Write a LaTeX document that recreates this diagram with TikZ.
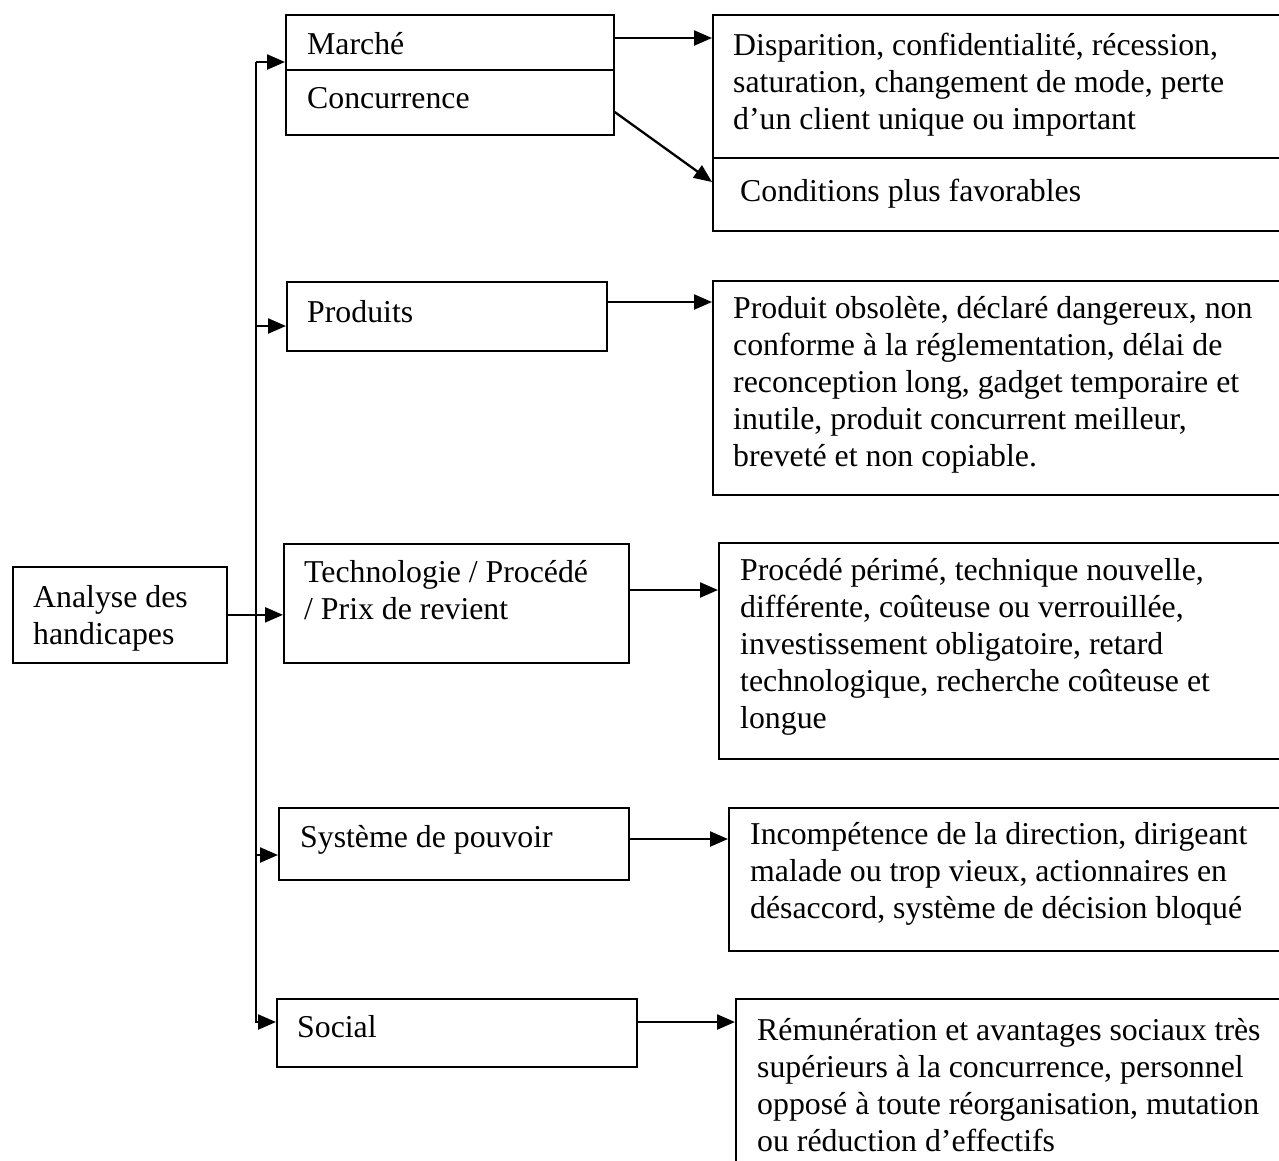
\documentclass[tikz,border=0pt]{standalone}
\usepackage{fontspec}
\setmainfont{Liberation Serif}
\usetikzlibrary{arrows.meta}
\tikzset{
  box/.style={draw, line width=1.7pt, rectangle, inner sep=0pt, anchor=north west},
  txt/.style={anchor=north west, inner sep=0pt, align=left, font=\fontsize{31.8}{37}\selectfont},
  conn/.style={line width=2.3pt},
  arr/.style={line width=2.3pt, -{Triangle[length=18pt,width=15pt]}}
}
\begin{document}
\begin{tikzpicture}[x=1pt,y=-1pt]
\clip (0,0) rectangle (1279,1160);
\fill[white] (0,0) rectangle (1279,1160);
% left column boxes
\node[box, minimum width=214pt, minimum height=96pt] (analyse) at (12,566) {};
\node[box, minimum width=328pt, minimum height=120pt] (marche) at (285,14) {};
\node[box, minimum width=320pt, minimum height=69pt] (produits) at (286,281) {};
\node[box, minimum width=345pt, minimum height=119pt] (tech) at (283,543) {};
\node[box, minimum width=350pt, minimum height=72pt] (systeme) at (278,807) {};
\node[box, minimum width=360pt, minimum height=68pt] (social) at (276,998) {};
% right column boxes
\node[box, minimum width=620pt, minimum height=216pt] (r1) at (712,14) {};
\node[box, minimum width=620pt, minimum height=214pt] (r2) at (712,280) {};
\node[box, minimum width=620pt, minimum height=216pt] (r3) at (718,542) {};
\node[box, minimum width=620pt, minimum height=143pt] (r4) at (728,807) {};
\node[box, minimum width=620pt, minimum height=220pt] (r5) at (735,998) {};
% dividers
\draw[line width=1.7pt] (marche.west |- 0,70) -- (marche.east |- 0,70);
\draw[line width=1.7pt] (r1.west |- 0,158) -- (r1.east |- 0,158);
% texts
\node[txt] (tanalyse) at (33,581) {\strut Analyse des\\handicapes};
\node[txt] (tmarche) at (307,28) {\strut Marché};
\node[txt] (tconc) at (307,82) {\strut Concurrence};
\node[txt] (tprod) at (307,296) {\strut Produits};
\node[txt] (ttech) at (304,556) {\strut Technologie / Procédé\\/ Prix de revient};
\node[txt] (tsys) at (300,821) {\strut Système de pouvoir};
\node[txt] (tsoc) at (297,1011) {\strut Social};
\node[txt] (tr1) at (733,29) {\strut Disparition, confidentialité, récession,\\saturation, changement de mode, perte\\d’un client unique ou important};
\node[txt] (tr1b) at (740,175) {\strut Conditions plus favorables};
\node[txt] (tr2) at (733,292) {\strut Produit obsolète, déclaré dangereux, non\\conforme à la réglementation, délai de\\reconception long, gadget temporaire et\\inutile, produit concurrent meilleur,\\breveté et non copiable.};
\node[txt] (tr3) at (740,554) {\strut Procédé périmé, technique nouvelle,\\différente, coûteuse ou verrouillée,\\investissement obligatoire, retard\\technologique, recherche coûteuse et\\longue};
\node[txt] (tr4) at (750,818) {\strut Incompétence de la direction, dirigeant\\malade ou trop vieux, actionnaires en\\désaccord, système de décision bloqué};
\node[txt] (tr5) at (757,1014) {\strut Rémunération et avantages sociaux très\\supérieurs à la concurrence, personnel\\opposé à toute réorganisation, mutation\\ou réduction d’effectifs};
% trunk
\coordinate (jm) at (256,62);
\coordinate (jp) at (256,326);
\coordinate (js) at (256,855);
\coordinate (jo) at (256,1022);
\draw[arr] (jm) -- (jo) -- (jo -| social.west);
\draw[arr] (jm) -- (jm -| marche.west);
\draw[arr] (jp) -- (jp -| produits.west);
\draw[arr] (analyse.east) -- (analyse.east -| tech.west);
\draw[arr] (js) -- (js -| systeme.west);
% right arrows
\draw[arr] (marche.east |- 0,38) -- (r1.west |- 0,38);
\draw[arr] (marche.east |- 0,112) -- (r1.west |- 0,182);
\draw[arr] (produits.east |- 0,302) -- (r2.west |- 0,302);
\draw[arr] (tech.east |- 0,590) -- (r3.west |- 0,590);
\draw[arr] (systeme.east |- 0,839) -- (r4.west |- 0,839);
\draw[arr] (social.east |- 0,1022) -- (r5.west |- 0,1022);
\end{tikzpicture}
\end{document}
